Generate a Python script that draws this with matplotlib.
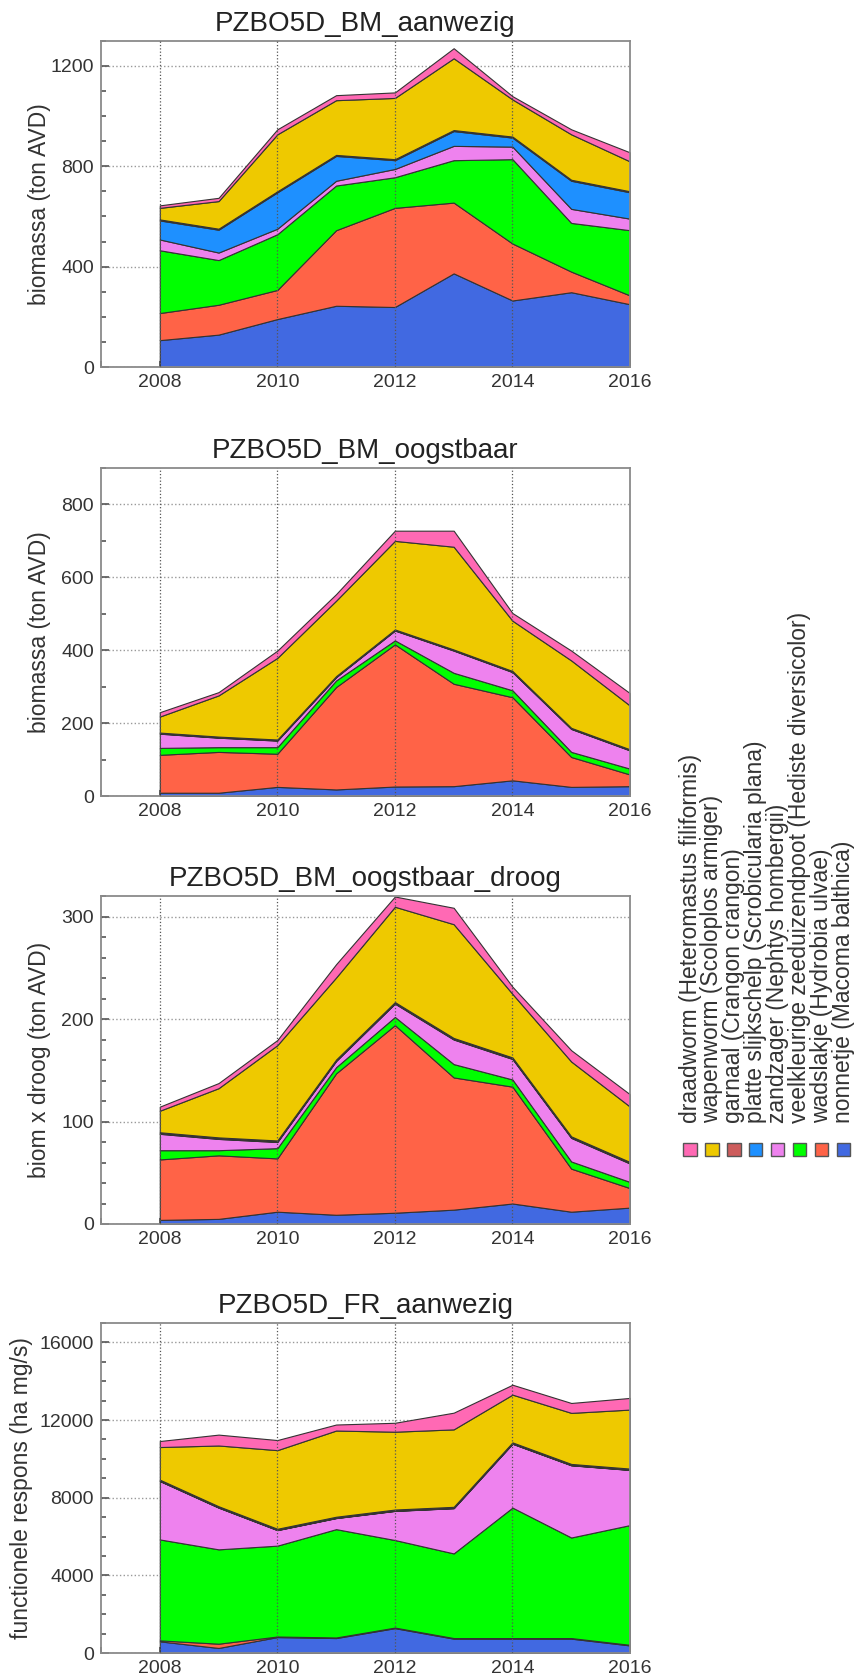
import matplotlib
matplotlib.use("Agg")
import matplotlib.pyplot as plt
from matplotlib.patches import Rectangle
from matplotlib.ticker import MultipleLocator

plt.rcParams['font.family'] = ['Liberation Sans', 'DejaVu Sans']

years = [2008, 2009, 2010, 2011, 2012, 2013, 2014, 2015, 2016]

# soorten, van onder naar boven gestapeld
soorten = ["nonnetje (Macoma balthica)",
           "wadslakje (Hydrobia ulvae)",
           "veelkleurige zeeduizendpoot (Hediste diversicolor)",
           "zandzager (Nephtys hombergii)",
           "platte slijkschelp (Scrobicularia plana)",
           "garnaal (Crangon crangon)",
           "wapenworm (Scoloplos armiger)",
           "draadworm (Heteromastus filiformis)"]
kleuren = ["#4169E1", "#FF6347", "#00FF00", "#EE82EE",
           "#1E90FF", "#CD5C5C", "#EEC900", "#FF69B4"]

# PZBO5D_BM_aanwezig
bm_aanwezig = [
    [107, 129, 191, 244, 239, 373, 265, 298, 250],
    [108, 119, 116, 301, 395, 282, 227, 82, 35],
    [250, 178, 222, 178, 122, 169, 336, 194, 260],
    [43, 30, 22, 19, 33, 57, 50, 56, 46],
    [76, 91, 145, 99, 35, 59, 36, 112, 105],
    [4, 4, 4, 4, 4, 4, 4, 4, 4],
    [46, 110, 227, 218, 244, 286, 148, 181, 119],
    [10, 13, 20, 20, 22, 40, 13, 20, 36],
]

# PZBO5D_BM_oogstbaar
bm_oogstbaar = [
    [9, 9, 25, 18, 26, 27, 43, 25, 27],
    [104, 112, 91, 281, 390, 281, 228, 82, 32],
    [19, 13, 18, 18, 11, 30, 19, 14, 16],
    [39, 26, 18, 9, 27, 61, 50, 63, 50],
    [1, 1, 1, 1, 1, 1, 1, 1, 1],
    [2, 2, 2, 2, 2, 2, 2, 2, 2],
    [44, 113, 224, 207, 243, 282, 138, 185, 120],
    [12, 9, 20, 18, 28, 44, 21, 27, 34],
]

# PZBO5D_BM_oogstbaar_droog
bm_droog = [
    [4, 5, 12, 9, 11, 14, 20, 12, 16],
    [59, 62, 52, 138, 183, 129, 114, 42, 19],
    [9, 5, 10, 6, 8, 13, 7, 7, 6],
    [16, 11, 6, 6, 13, 24, 20, 23, 18],
    [0.5, 0.5, 0.5, 0.5, 0.5, 0.5, 0.5, 0.5, 0.5],
    [1, 1, 1, 1, 1, 1, 1, 1, 1],
    [21, 48, 93, 80, 93, 111, 62, 73, 54],
    [4, 5, 5, 13, 10, 16, 7, 11, 12],
]

# PZBO5D_FR_aanwezig
fr_aanwezig = [
    [600, 260, 820, 770, 1280, 740, 740, 740, 390],
    [50, 220, 30, 30, 30, 30, 30, 30, 30],
    [5200, 4860, 4680, 5580, 4510, 4360, 6720, 5180, 6170],
    [3010, 2150, 800, 570, 1500, 2330, 3290, 3720, 2840],
    [10, 10, 10, 10, 10, 10, 10, 10, 10],
    [60, 60, 60, 60, 60, 60, 60, 60, 60],
    [1680, 3130, 4050, 4440, 4010, 3990, 2460, 2630, 3040],
    [310, 560, 520, 310, 460, 860, 510, 510, 600],
]

panels = [
    ("PZBO5D_BM_aanwezig", bm_aanwezig, "biomassa (ton AVD)", 1300, 400, 100),
    ("PZBO5D_BM_oogstbaar", bm_oogstbaar, "biomassa (ton AVD)", 900, 200, 100),
    ("PZBO5D_BM_oogstbaar_droog", bm_droog, "biom x droog (ton AVD)", 320, 100, 20),
    ("PZBO5D_FR_aanwezig", fr_aanwezig, "functionele respons (ha mg/s)", 17000, 4000, 1000),
]

W, H = 856, 1677
fig = plt.figure(figsize=(W / 100, H / 100), dpi=100)

# (boven, onder) in pixels
boxes = [(40.7, 367), (468, 796), (896, 1224), (1323, 1653)]
labx = [-0.095, -0.095, -0.095, -0.128]
left, right = 101, 630

for (title, data, ylab, ymax, major, minor), (top, bot), lx in zip(panels, boxes, labx):
    ax = fig.add_axes([left / W, 1 - bot / H, (right - left) / W, (bot - top) / H])
    ax.stackplot(years, *data, colors=kleuren, edgecolor="#333333",
                 linewidth=0.8, zorder=2)
    ax.set_xlim(2007, 2016)
    ax.set_ylim(0, ymax)
    ax.xaxis.set_major_locator(MultipleLocator(2))
    ax.xaxis.set_minor_locator(MultipleLocator(1))
    ax.yaxis.set_major_locator(MultipleLocator(major))
    ax.yaxis.set_minor_locator(MultipleLocator(minor))
    ax.tick_params(which="both", direction="in", colors="#555555",
                   labelcolor="#333333", labelsize=14, width=1.2)
    ax.tick_params(which="major", length=6, pad=5)
    ax.tick_params(which="minor", length=3.5)
    ax.tick_params(axis="x", which="both", length=4)
    ax.grid(axis="y", which="major", linestyle=":", color="#999999",
            linewidth=1.0, zorder=0)
    for xv in [2008, 2010, 2012, 2014]:
        ax.axvline(xv, linestyle=":", color="#555555", linewidth=0.9, zorder=3)
    for s in ax.spines.values():
        s.set_color("#8a8a8a")
        s.set_linewidth(1.3)
    ax.set_axisbelow(True)
    ax.set_title(title, fontsize=20, color="#222222", pad=7)
    ax.set_ylabel(ylab, fontsize=16.5, color="#333333")
    ax.yaxis.set_label_coords(lx, 0.5)

# legenda met gedraaide tekst
order = list(range(7, -1, -1))
for i, k in enumerate(order):
    xc = 690 + i * 21.9
    fig.text(xc / W, 1 - 1123 / H, soorten[k], rotation=90, ha="center",
             va="bottom", fontsize=16.5, color="#333333")
    sz = 13.5
    fig.patches.append(Rectangle(((xc - sz / 2) / W, 1 - 1156 / H), sz / W, sz / H,
                                 transform=fig.transFigure, facecolor=kleuren[k],
                                 edgecolor="#555555", linewidth=1.0))

fig.savefig("out.png", dpi=100)
